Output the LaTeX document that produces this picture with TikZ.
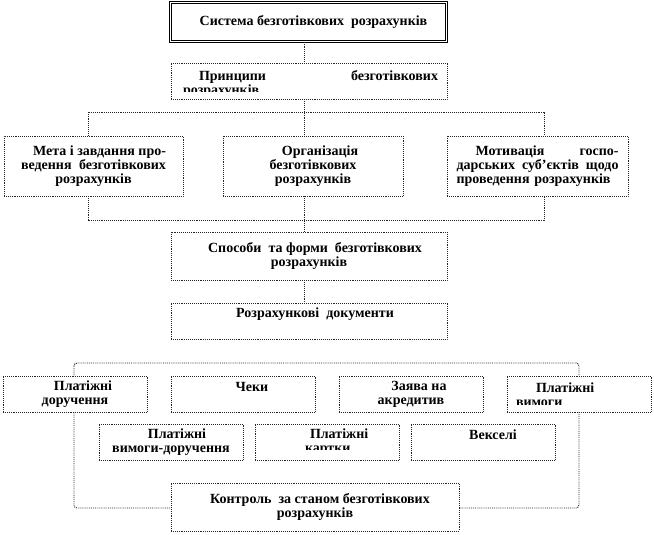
\documentclass[tikz,border=0pt]{standalone}
\usepackage{fontspec}
\setmainfont{Liberation Serif}

\begin{document}
\begin{tikzpicture}[x=1pt,y=-1pt,
    lnk/.style={draw=black!85, densely dotted, line width=0.9pt},
    blk/.style={lnk, fill=white, inner sep=0pt, align=center,
      font=\bfseries\fontsize{14}{14}\selectfont},
    txt/.style={inner sep=0pt, font=\bfseries\fontsize{14}{14}\selectfont}]
  \useasboundingbox (0,0) rectangle (654,535);
  \coordinate (cx) at (304,0);
  % top
  \node[draw, double, double distance=1.6pt, line width=0.6pt, fill=white,
        minimum width=276pt, minimum height=39pt, txt] (sys) at (308.5,22)
        {\hspace*{10pt}Система безготівкових~ розрахунків};
  \node[blk, minimum width=276pt, minimum height=36pt] (princ) at (309,81) {};
  \begin{scope}
    \clip ([shift={(3pt,-3pt)}]princ.north west) rectangle ([shift={(-3pt,8pt)}]princ.south east);
    \node[txt, text width=255pt, align=left] (princt) at (310.5,84)
          {\hspace*{16pt}Принципи\hfill безготівкових\\розрахунків};
  \end{scope}
  \node[blk, minimum width=179pt, minimum height=60pt, text width=145pt, align=left] (meta) at (93.5,166)
        {\hspace*{12pt}Мета\hfill і\hfill завдання\hfill про-\\ведення\hfill безготівкових\\\mbox{}\hfill розрахунків\hfill\mbox{}};
  \node[blk, minimum width=180pt, minimum height=60pt] (org) at (313,166)
        {\hspace*{14pt}Організація\\безготівкових\\розрахунків};
  \node[blk, minimum width=181pt, minimum height=60pt, text width=162pt, align=left] (motiv) at (537.5,166)
        {\hspace*{19pt}Мотивація\hfill госпо-\\дарських\hfill суб’єктів\hfill щодо\\проведення розрахунків};
  \coordinate (tl) at (88,112);
  \coordinate (tr) at (544,112);
  \coordinate (bl) at (88,220);
  \coordinate (br) at (544,220);
  \draw[lnk] (sys.south -| cx) -- (princ.north -| cx);
  \draw[lnk] (princ.south -| cx) -- (org.north -| cx);
  \draw[lnk] (tl |- meta.north) -- (tl) -- (tr) -- (tr |- motiv.north);
  \draw[lnk] (bl |- meta.south) -- (bl) -- (br) -- (br |- motiv.south);
  % middle
  \node[blk, minimum width=276pt, minimum height=48pt] (sposoby) at (309,256)
        {\hspace*{12pt}Способи~ та форми~ безготівкових\\розрахунків};
  \node[blk, minimum width=276pt, minimum height=36pt] (docs) at (309,321)
        {\hspace*{12pt}Розрахункові~ документи\\[2pt]\phantom{Р}};
  \draw[lnk] (org.south -| cx) -- (sposoby.north -| cx);
  \draw[lnk] (sposoby.south -| cx) -- (docs.north -| cx);
  % documents
  \draw[lnk, rounded corners=3pt] (74,363) rectangle (579,508);
  \node[blk, minimum width=144pt, minimum height=36pt] (r1a) at (75,394)
        {\hspace*{16pt}Платіжні\\доручення};
  \node[blk, minimum width=144pt, minimum height=36pt] (r1b) at (243,394)
        {\hspace*{18pt}Чеки\\\phantom{Ч}};
  \node[blk, minimum width=144pt, minimum height=36pt] (r1c) at (411,394)
        {\hspace*{16pt}Заява на\\акредитив};
  \node[blk, minimum width=144pt, minimum height=36pt] (r1d) at (579,394) {};
  \begin{scope}
    \clip ([shift={(3pt,-3pt)}]r1d.north west) rectangle ([shift={(-3pt,8pt)}]r1d.south east);
    \node[txt, text width=126pt, align=left] (r1dt) at (579,395)
          {\hspace*{20pt}Платіжні\\вимоги};
  \end{scope}
  \node[blk, minimum width=144pt, minimum height=36pt] (r2a) at (171,442)
        {\hspace*{12pt}Платіжні\\вимоги-доручення};
  \node[blk, minimum width=144pt, minimum height=36pt] (r2b) at (327,442) {};
  \begin{scope}
    \clip ([shift={(3pt,-3pt)}]r2b.north west) rectangle ([shift={(-3pt,11pt)}]r2b.south east);
    \node[txt, text width=126pt, align=left] (r2bt) at (368,442)
          {\hspace*{5pt}Платіжні\\картки};
  \end{scope}
  \node[blk, minimum width=144pt, minimum height=36pt] (r2c) at (483,442)
        {\hspace*{20pt}Векселі\\\phantom{В}};
  \node[blk, minimum width=288pt, minimum height=48pt] (ctrl) at (315,507)
        {\hspace*{10pt}Контроль~ за станом безготівкових\\розрахунків};
\end{tikzpicture}
\end{document}
